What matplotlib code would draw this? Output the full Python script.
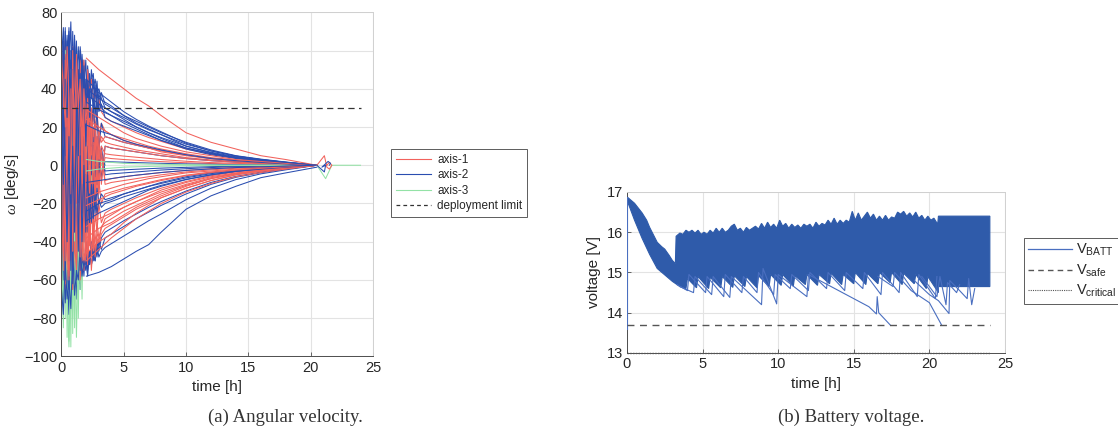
import matplotlib
matplotlib.use("Agg")
import matplotlib.pyplot as plt
from matplotlib.lines import Line2D

plt.rcParams['font.family'] = ['Liberation Sans', 'DejaVu Sans']
plt.rcParams['mathtext.fontset'] = 'custom'
plt.rcParams['mathtext.rm'] = 'Liberation Sans'
plt.rcParams['mathtext.it'] = 'Liberation Serif:italic'

# ---------------- (a) angular velocity data ----------------
T_BURST = [0, 0.15, 0.3, 0.45, 0.6, 0.75, 0.9, 1.05, 1.2, 1.35, 1.5, 1.65,
           1.8, 1.95, 2.1, 2.25, 2.4, 2.55, 2.7, 2.85, 3.0, 3.2, 3.5]
T_LATE = [4, 5, 6, 7, 8, 10, 12, 14, 16, 18, 20.5]

RED_BURST = [
    [40, 62, 20, 55, -10, 48, 15, 60, 5, 45, 30, 52, 10, 40, 25, 35, 12, 30, 20, 28, 15, 22, 18],
    [-30, -60, -5, -55, 10, -62, -20, -50, 0, -58, -25, -45, -10, -50, -30, -40, -20, -45, -25, -35, -20, -30, -25],
    [60, 10, 65, -20, 50, 30, 62, -5, 40, 20, 55, 35, 45, 20, 40, 15, 30, 25, 18, 22, 10, 15, 12],
    [-60, -20, -65, 5, -55, -30, -60, 10, -45, -20, -55, -35, -50, -40, -52, -30, -45, -35, -40, -30, -38, -32, -30],
    [20, -40, 30, -50, 25, -35, 45, -30, 35, -25, 20, -15, 25, -20, 15, -10, 12, -8, 10, -12, 5, -5, 4],
    [-10, 35, -45, 25, -30, 50, -40, 20, -35, 30, -30, 15, -25, 18, -22, 10, -15, 12, -12, 8, -10, 6, -8],
    [50, -55, 40, -60, 30, -50, 20, -45, 15, -40, 10, -50, -5, -48, 0, -42, -10, -35, -5, -30, -8, -20, -15],
    [-45, 45, -30, 60, -20, 35, -10, 55, 0, 50, 10, 45, 5, 35, 10, 30, 8, 20, 5, 15, 3, 10, 6],
    [65, 30, 58, 10, 62, 25, 55, 35, 60, 15, 50, 40, 55, 30, 50, 38, 45, 35, 40, 30, 35, 28, 25],
    [-50, -10, -62, -35, -58, -15, -65, -40, -55, -20, -60, -38, -55, -45, -50, -35, -55, -40, -48, -38, -42, -36, -33],
    [0, 50, -35, 40, -50, 20, -45, 45, -20, 35, -40, 25, -35, 15, -30, 20, -25, 10, -20, 12, -15, 8, -10],
    [35, -25, 55, -45, 45, -20, 60, -35, 50, -15, 45, -25, 35, -30, 30, -20, 25, -25, 20, -15, 15, -10, 10],
    [-35, 15, -50, 30, -60, 40, -45, 25, -52, 10, -48, 20, -45, -5, -50, -20, -48, -30, -45, -35, -40, -33, -28],
    [55, 40, 20, 62, 35, -15, 50, 20, 58, 30, 45, 15, 40, 22, 35, 10, 28, 15, 22, 10, 18, 12, 15],
]
RED_LATE = [
    [16, 14, 12, 10, 8.5, 6, 4, 2.8, 1.8, 1, 0],
    [-23, -20, -17, -14.5, -12, -8.5, -5.5, -3.5, -2.2, -1.2, 0],
    [11, 9.5, 8, 7, 6, 4, 2.8, 1.9, 1.2, 0.6, 0],
    [-28, -24, -21, -18, -15, -10.5, -7, -4.5, -2.8, -1.5, 0],
    [3.5, 3, 2.6, 2.2, 1.9, 1.3, 0.9, 0.6, 0.4, 0.2, 0],
    [-7, -6, -5.2, -4.5, -3.8, -2.7, -1.8, -1.2, -0.8, -0.4, 0],
    [-14, -12, -10.5, -9, -7.5, -5.2, -3.5, -2.3, -1.5, -0.8, 0],
    [5.5, 4.8, 4.2, 3.6, 3, 2.1, 1.4, 1, 0.6, 0.3, 0],
    [23, 20, 17, 14.5, 12.5, 8.5, 5.8, 3.8, 2.4, 1.3, 0],
    [-31, -27, -23, -20, -17, -12, -8, -5, -3.2, -1.7, 0],
    [-9, -8, -7, -6, -5, -3.5, -2.4, -1.6, -1, -0.5, 0],
    [9, 8, 7, 6, 5, 3.5, 2.4, 1.6, 1, 0.5, 0],
    [-26, -22, -19, -16.5, -14, -10, -6.5, -4.2, -2.6, -1.4, 0],
    [14, 12, 10.5, 9, 7.5, 5.2, 3.5, 2.3, 1.5, 0.8, 0],
]
BLUE_BURST = [
    [70, 20, 72, 35, 68, 10, 70, 40, 65, 25, 60, 45, 55, 30, 52, 35, 50, 40, 45, 38, 40, 35, 30],
    [-75, -30, -70, -10, -65, -40, -68, -20, -60, -35, -65, -45, -58, -40, -55, -45, -52, -45, -50, -42, -48, -45, -43],
    [40, -60, 50, -50, 60, -40, 55, -55, 45, -30, 40, -35, 30, -25, 28, -20, 25, -15, 20, -10, 15, -8, 10],
    [-50, 55, -55, 65, -45, 60, -40, 50, -35, 45, -30, 35, -20, 30, -15, 25, -12, 20, -10, 15, -8, 10, -5],
    [65, 30, 70, 50, 72, 40, 62, 55, 58, 42, 62, 50, 48, 38, 50, 40, 45, 48, 35, 44, 30, 38, 32],
    [-80, -40, -72, -55, -78, -30, -65, -50, -70, -40, -62, -48, -55, -50, -58, -45, -52, -48, -50, -40, -45, -38, -35],
    [10, 40, -20, 30, -35, 20, -25, 35, -15, 25, -20, 15, -10, 20, -8, 12, -5, 10, -6, 8, -4, 6, -3],
    [30, -20, 45, -35, 25, -45, 35, -10, 40, -30, 20, -25, 15, -30, 10, -20, 5, -15, 8, -10, 3, -6, 2],
    [55, 72, 40, 68, 50, 75, 30, 66, 45, 62, 35, 58, 40, 55, 30, 48, 35, 45, 25, 40, 28, 32, 25],
    [-65, -78, -50, -70, -60, -75, -45, -68, -55, -60, -40, -58, -50, -55, -45, -52, -40, -50, -42, -48, -40, -44, -38],
    [20, 65, 5, 60, -10, 55, 20, 68, 10, 50, 25, 55, 20, 45, 15, 40, 10, 35, 12, 30, 8, 22, 15],
    [-40, 10, -60, 20, -50, -5, -62, 15, -45, 0, -55, -10, -40, -5, -35, -15, -30, -10, -25, -12, -20, -15, -18],
    [60, -10, 45, 25, 70, -20, 50, 30, 62, 5, 48, 20, 52, 10, 44, 25, 40, 30, 42, 28, 38, 30, 28],
    [-20, 30, 0, -40, 15, -55, 10, -35, 30, -45, 5, -40, 0, -35, -5, -30, -10, -28, -15, -25, -18, -22, -20],
]
BLUE_LATE = [
    [28, 25, 21.5, 18.5, 16, 11, 7.5, 4.8, 3, 1.6, 0],
    [-41, -37, -33, -29, -25.5, -18, -12, -7.5, -4.5, -2.4, 0],
    [9, 8, 7, 6, 5, 3.5, 2.4, 1.6, 1, 0.5, 0],
    [-4.5, -4, -3.5, -3, -2.5, -1.8, -1.2, -0.8, -0.5, -0.25, 0],
    [30, 26, 23, 20, 17, 12, 8, 5, 3.2, 1.7, 0],
    [-33, -29, -25.5, -22, -19, -13.5, -9, -5.8, -3.6, -1.9, 0],
    [-2.7, -2.4, -2.1, -1.8, -1.5, -1.1, -0.7, -0.5, -0.3, -0.15, 0],
    [1.8, 1.6, 1.4, 1.2, 1, 0.7, 0.5, 0.3, 0.2, 0.1, 0],
    [23, 20.5, 18, 15.5, 13, 9, 6.2, 4, 2.5, 1.3, 0],
    [-36, -32, -28, -24.5, -21, -15, -10, -6.3, -3.9, -2, 0],
    [14, 12, 10.5, 9, 7.8, 5.4, 3.6, 2.4, 1.5, 0.8, 0],
    [-17, -15, -13, -11, -9.5, -6.6, -4.4, -2.9, -1.8, -1, 0],
    [26, 23, 20, 17, 14.5, 10, 6.8, 4.4, 2.8, 1.5, 0],
    [-19, -16.5, -14.5, -12.5, -10.5, -7.4, -5, -3.2, -2, -1, 0],
]
GREEN_BURST = [
    [50, -70, 30, -90, 20, -95, 10, -85, 5, -80, -10, -40, 0, -20, 5, -10, 2, -5, 3, -2, 1, 0, 0],
    [-60, 40, -80, 55, -92, 30, -88, 20, -70, 10, -60, 5, -30, 8, -15, 5, -8, 3, -5, 2, -2, 1, 0],
    [30, 55, -20, 45, -50, 35, -60, 25, -40, 15, -30, 10, -15, 8, -10, 5, -5, 3, -3, 2, -1, 0, 0],
    [-20, 20, -40, 50, -30, 40, -70, 30, -55, 20, -45, 15, -25, 10, -12, 6, -8, 4, -4, 2, -2, 1, 0],
    [10, -30, 35, -55, 40, -75, 30, -60, 20, -50, 10, -30, 5, -12, 3, -6, 2, -3, 1, -1, 0, 0, 0],
    [45, -10, 60, 0, 30, -40, 15, -50, 0, -65, -20, -70, -10, -30, 0, -10, 3, -4, 1, -1, 0, 0, 0],
    [-40, -85, -20, -70, -95, -50, -80, -35, -90, -40, -65, -20, -40, -5, -20, 0, -8, 2, -3, 1, 0, 0, 0],
    [25, 45, 10, 40, 30, 50, 0, 35, -10, 25, 5, 20, -5, 12, 0, 8, -2, 4, 0, 2, 0, 0, 0],
]

# extra slowly decaying runs starting at t = 2 h
T_TAIL = [2.0, 3.0, 4, 5, 6, 7, 8, 10, 12, 14, 16, 18, 20.5]
RED_TAIL = [
    [56, 50, 45, 40, 35, 31, 26, 17, 12, 8.5, 5, 3, 0],
    [-38, -33, -30, -26, -22, -19, -16, -11, -7, -4.5, -3, -1.5, 0],
    [-32, -28, -25, -22, -19, -16, -13, -9, -6, -4, -2.5, -1, 0],
    [24, 20, 16, 13, 11, 9, 7, 5, 3.5, 2.5, 1.5, 1, 0],
    [-17, -14, -12, -10, -8.5, -7, -6, -4, -3, -2, -1.2, -0.6, 0],
    [-46, -40, -36, -30, -25, -21, -17, -12, -8, -5, -3, -1.5, 0],
    [29, 25, 21, 17, 14, 12, 10, 7, 5, 3, 2, 1, 0],
    [-50, -44, -38, -33, -28, -24, -20, -14, -9.5, -6, -3.8, -2, 0],
    [-21, -18, -15, -13, -11, -9.5, -8, -5.5, -3.8, -2.5, -1.6, -0.8, 0],
]
BLUE_TAIL = [
    [-58, -56, -53, -49, -45, -41.5, -35, -23, -16, -11, -6.5, -4, -1],
    [40, 35, 31, 26, 22, 19, 16, 10, 6.5, 4, 2.5, 1.2, 0],
    [37, 32, 28, 24, 20, 17, 14, 9, 6, 3.8, 2.2, 1, 0],
    [33, 29, 26, 22, 19, 16, 13, 8.5, 5.5, 3.5, 2, 1, 0],
    [21, 18, 16, 13, 11, 9.5, 8, 5.5, 3.5, 2.4, 1.5, 0.7, 0],
    [-24, -20, -18, -15, -13, -11, -9, -6, -4, -2.8, -1.7, -0.8, 0],
    [-29, -25, -22, -19, -16, -13, -11, -7.5, -5, -3.2, -2, -1, 0],
    [45, 38, 33, 28, 24, 20.5, 17.5, 11.5, 7.5, 4.8, 3, 1.5, 0],
    [-9, -8, -7, -6, -5.2, -4.5, -3.8, -2.7, -1.9, -1.2, -0.8, -0.4, 0],
]
GREEN_TAIL = [
    [3, 2, 1.5, 1, 0.8, 0.6, 0.5, 0.3, 0.2, 0.1, 0.1, 0, 0],
    [-3, -2, -1.5, -1, -0.8, -0.6, -0.5, -0.3, -0.2, -0.1, -0.1, 0, 0],
]

RED_END_T = [20.5, 21.1, 21.3, 21.5, 21.7, 21.5, 21.3]
RED_END_V = [0, 5, -1, -2, 0, 1.5, 0]
BLUE_END_T = [20.5, 21.1, 21.2, 20.9, 21.4, 21.6, 21.5]
BLUE_END_V = [0, -3.5, 0, -1, 2, 1, 0]
GREEN_END_T = [20.5, 20.9, 21.2, 21.7, 24.0]
GREEN_END_V = [0, -4, -7, 0, 0]

DEPLOY_T = [0, 24]
DEPLOY_V = [30, 30]

# ---------------- (b) battery voltage data ----------------
VUP_T = [0, 0.5, 1.0, 1.3, 1.5, 2.0, 2.3, 2.5, 2.8, 3.0, 3.2, 3.25, 3.5, 3.7, 3.9,
         4.1, 4.3, 4.5, 4.7, 4.9, 5.1, 5.3, 5.5, 5.7, 5.9, 6.1, 6.3, 6.5, 6.7, 6.9,
         7.1, 7.3, 7.5, 7.7, 7.9, 8.1, 8.3, 8.5, 8.7, 8.9, 9.1, 9.3, 9.5, 9.7, 9.9,
         10.1, 10.3, 10.5, 10.7, 10.9, 11.1, 11.3, 11.5, 11.7, 11.9, 12.1, 12.3,
         12.5, 12.7, 12.9, 13.1, 13.3, 13.5, 13.7, 13.9, 14.1, 14.3, 14.5, 14.7,
         14.9, 15.1, 15.3, 15.5, 15.7, 15.9, 16.1, 16.3, 16.5, 16.7, 16.9, 17.1,
         17.3, 17.5, 17.7, 17.9, 18.1, 18.3, 18.5, 18.7, 18.9, 19.1, 19.3, 19.5,
         19.7, 19.9, 20.1, 20.3, 20.55, 20.6, 24.0]
VUP_V = [16.88, 16.72, 16.48, 16.3, 16.12, 15.75, 15.64, 15.58, 15.42, 15.3, 15.22, 15.9, 15.98, 15.95, 16.05,
         16.0, 16.05, 15.98, 16.05, 15.95, 16.0, 15.95, 16.05, 15.98, 16.1, 16.0, 16.1, 16.0, 16.05, 16.15,
         16.2, 16.05, 16.1, 16.0, 16.12, 16.05, 16.1, 16.15, 16.08, 16.22, 16.1, 16.25, 16.12, 16.2, 16.1,
         16.3, 16.15, 16.22, 16.1, 16.2, 16.12, 16.18, 16.1, 16.2, 16.15, 16.2, 16.1,
         16.25, 16.15, 16.22, 16.18, 16.3, 16.2, 16.35, 16.2, 16.3, 16.22, 16.3, 16.25,
         16.52, 16.3, 16.48, 16.3, 16.4, 16.5, 16.35, 16.45, 16.3, 16.4, 16.3, 16.42,
         16.3, 16.38, 16.35, 16.5, 16.45, 16.52, 16.4, 16.48, 16.38, 16.5, 16.35, 16.42,
         16.3, 16.4, 16.3, 16.35, 16.2, 16.4, 16.4]

VLO_T = [0, 0.5, 1, 1.5, 2, 2.5, 3.0, 3.5, 3.9, 4.0, 4.6, 4.7, 5.4, 5.5, 6.2, 6.3,
         7.0, 7.1, 7.8, 7.9, 8.6, 8.7, 9.4, 9.5, 10.2, 10.3, 11.0, 11.1, 11.8, 11.9,
         12.6, 12.7, 13.4, 13.5, 14.2, 14.3, 15.0, 15.1, 15.8, 15.9, 16.6, 16.7,
         17.4, 17.5, 18.2, 18.3, 19.0, 19.1, 19.8, 19.9, 20.6, 20.6, 24.0]
VLO_V = [16.8, 16.3, 15.85, 15.45, 15.1, 14.94, 14.78, 14.65, 14.6, 14.85, 14.62, 14.9, 14.6, 14.88, 14.62, 14.9,
         14.63, 14.92, 14.65, 14.9, 14.62, 14.92, 14.65, 14.95, 14.68, 14.95, 14.66, 14.92, 14.7, 14.95,
         14.68, 14.95, 14.72, 14.98, 14.7, 14.95, 14.72, 15.0, 14.7, 14.98, 14.72, 15.0,
         14.75, 15.0, 14.7, 14.98, 14.72, 14.95, 14.6, 14.9, 14.5, 14.65, 14.65]

SAW_T = [
    [3.5, 4.4, 4.5, 5.6, 5.7, 6.8, 6.9, 8.9, 9.0, 9.9, 10.0, 11.9, 12.0, 13.0, 14.0, 15.0, 16.0, 16.5, 16.55, 16.65, 17.4],
    [16.6, 17.6, 17.7, 18.8, 19.0, 20.0, 20.8],
    [19.0, 20.0, 20.6, 21.3, 21.35, 22.0, 22.5, 22.6, 22.8, 23.0],
    [3.3, 4.0, 4.1, 5.2, 5.3, 6.4, 6.5, 7.6, 7.7, 8.6, 8.7, 9.7, 9.8, 10.8, 10.9, 12.0, 12.1,
     13.2, 13.3, 14.4, 14.5, 15.6, 15.7, 16.8, 16.9, 18.0, 18.1, 19.2, 19.3, 20.4, 20.5],
    [19.5, 20.5, 20.7, 21.1, 21.2, 21.8, 22.0],
    [0, 0],
]
SAW_V = [
    [14.65, 14.5, 14.9, 14.45, 14.9, 14.38, 14.9, 14.2, 15.1, 14.22, 14.95, 14.4, 14.95, 14.75, 14.55, 14.35, 14.15, 13.97, 14.4, 14.0, 13.7],
    [14.9, 14.65, 15.0, 14.55, 14.5, 14.25, 13.7],
    [14.8, 14.45, 14.3, 13.98, 14.8, 14.55, 14.35, 14.85, 14.2, 14.6],
    [14.7, 14.55, 14.95, 14.5, 14.9, 14.4, 14.95, 14.5, 14.9, 14.5, 15.0, 14.45, 14.95, 14.6, 14.95, 14.55, 15.0,
     14.6, 15.0, 14.55, 15.0, 14.6, 15.0, 14.45, 15.0, 14.5, 15.0, 14.4, 14.95, 14.35, 14.9],
    [14.9, 14.4, 14.9, 14.2, 14.75, 14.5, 14.7],
    [13.6, 16.88],
]

VSAFE_T = [0, 24]
VSAFE_V = [13.7, 13.7]
VCRIT_T = [0, 24]
VCRIT_V = [13.0, 13.0]

# ---------------- styling ----------------
RED = '#F2625C'
BLUE = '#2A4DB0'
GREEN = '#93E2A6'
VBLUE = '#2F5BAA'
TXT = '#262626'

fig = plt.figure(figsize=(11.18, 4.43), dpi=100)
ax1 = fig.add_axes([0.0550, 0.1953, 0.2786, 0.7770])
ax2 = fig.add_axes([0.5608, 0.2032, 0.3381, 0.3634])


def style(ax):
    ax.grid(True, color='#e3e3e3', linewidth=0.8)
    ax.set_axisbelow(True)
    for s in ['top', 'right']:
        ax.spines[s].set_color('#d0d0d0')
        ax.spines[s].set_linewidth(0.7)
    for s in ['left', 'bottom']:
        ax.spines[s].set_color('#4d4d4d')
        ax.spines[s].set_linewidth(0.7)
    ax.tick_params(direction='in', length=3, width=0.6, color='#4d4d4d',
                   labelsize=10.5, labelcolor=TXT, pad=3)


lw = 0.75
for i in range(len(RED_BURST)):
    ax1.plot(T_BURST + T_LATE, RED_BURST[i] + RED_LATE[i], color=RED, lw=lw)
    if i < len(GREEN_BURST):
        ax1.plot(T_BURST, GREEN_BURST[i], color=GREEN, lw=lw)
    ax1.plot(T_BURST + T_LATE, BLUE_BURST[i] + BLUE_LATE[i], color=BLUE, lw=lw)
for i in range(max(len(RED_TAIL), len(BLUE_TAIL))):
    if i < len(RED_TAIL):
        ax1.plot(T_TAIL, RED_TAIL[i], color=RED, lw=lw)
    if i < len(BLUE_TAIL):
        ax1.plot(T_TAIL, BLUE_TAIL[i], color=BLUE, lw=lw)
    if i < len(GREEN_TAIL):
        ax1.plot(T_TAIL, GREEN_TAIL[i], color=GREEN, lw=lw)
ax1.plot(GREEN_END_T, GREEN_END_V, color=GREEN, lw=lw)
ax1.plot(RED_END_T, RED_END_V, color=RED, lw=lw)
ax1.plot(BLUE_END_T, BLUE_END_V, color=BLUE, lw=lw)
ax1.plot(DEPLOY_T, DEPLOY_V, color='#333333', lw=0.9, ls=(0, (5, 3.5)))

ax1.set_xlim(0, 25)
ax1.set_ylim(-100, 80)
ax1.set_xticks([0, 5, 10, 15, 20, 25])
ax1.set_yticks(list(range(-100, 81, 20)))
style(ax1)
ax1.set_xlabel('time [h]', fontsize=11, color=TXT, labelpad=4)
ax1.set_ylabel(r'$\omega$ [deg/s]', fontsize=11, color=TXT, labelpad=2)

h1 = [Line2D([], [], color=RED, lw=0.8), Line2D([], [], color=BLUE, lw=0.8),
      Line2D([], [], color=GREEN, lw=0.8),
      Line2D([], [], color='#333333', lw=0.9, ls=(0, (3, 2.5)))]
leg1 = fig.legend(h1, ['axis-1', 'axis-2', 'axis-3', 'deployment limit'],
                  loc='upper left', bbox_to_anchor=(0.3497, 0.6637),
                  bbox_transform=fig.transFigure, fontsize=8.5, frameon=True,
                  fancybox=False, handlelength=3.0, handletextpad=0.5,
                  borderpad=0.4, labelspacing=0.3, borderaxespad=0)
leg1.get_frame().set_edgecolor('#333333')
leg1.get_frame().set_linewidth(0.7)
for t in leg1.get_texts():
    t.set_color(TXT)

# voltage panel: dense band as polygon between upper and lower envelopes
poly_t = VUP_T + VLO_T[::-1]
poly_v = VUP_V + VLO_V[::-1]
ax2.fill(poly_t, poly_v, color=VBLUE, lw=0.8, edgecolor=VBLUE, zorder=2)
for ts, vs in zip(SAW_T, SAW_V):
    ax2.plot(ts, vs, color='#4a6fc0', lw=0.8, zorder=3)
ax2.plot(VSAFE_T, VSAFE_V, color='#555555', lw=1.0, ls=(0, (5, 4)), zorder=3)
ax2.plot(VCRIT_T, VCRIT_V, color='#555555', lw=1.0, ls=(0, (1, 1)), zorder=3,
         clip_on=False)

ax2.set_xlim(0, 25)
ax2.set_ylim(13, 17)
ax2.set_xticks([0, 5, 10, 15, 20, 25])
ax2.set_yticks([13, 14, 15, 16, 17])
style(ax2)
ax2.set_xlabel('time [h]', fontsize=11, color=TXT, labelpad=4)
ax2.set_ylabel('voltage [V]', fontsize=11, color=TXT, labelpad=4)

h2 = [Line2D([], [], color='#4a6fc0', lw=0.9),
      Line2D([], [], color='#555555', lw=1.0, ls=(0, (4, 3))),
      Line2D([], [], color='#555555', lw=0.8, ls=(0, (1, 1)))]
leg2 = fig.legend(h2, [r'V$_\mathregular{BATT}$', r'V$_\mathregular{safe}$',
                       r'V$_\mathregular{critical}$'],
                  loc='upper left', bbox_to_anchor=(0.9159, 0.4628),
                  bbox_transform=fig.transFigure, fontsize=10.5, frameon=True,
                  fancybox=False, handlelength=3.0, handletextpad=0.3,
                  borderpad=0.3, labelspacing=0.3, borderaxespad=0)
leg2.get_frame().set_edgecolor('#333333')
leg2.get_frame().set_linewidth(0.7)
for t in leg2.get_texts():
    t.set_color(TXT)

fig.text(285 / 1118, 1 - 417 / 443, '(a) Angular velocity.', ha='center',
         va='center', fontsize=13.5, family='Liberation Serif', color='#333333')
fig.text(851 / 1118, 1 - 417 / 443, '(b) Battery voltage.', ha='center',
         va='center', fontsize=13.5, family='Liberation Serif', color='#333333')

fig.savefig('out.png', dpi=100)
